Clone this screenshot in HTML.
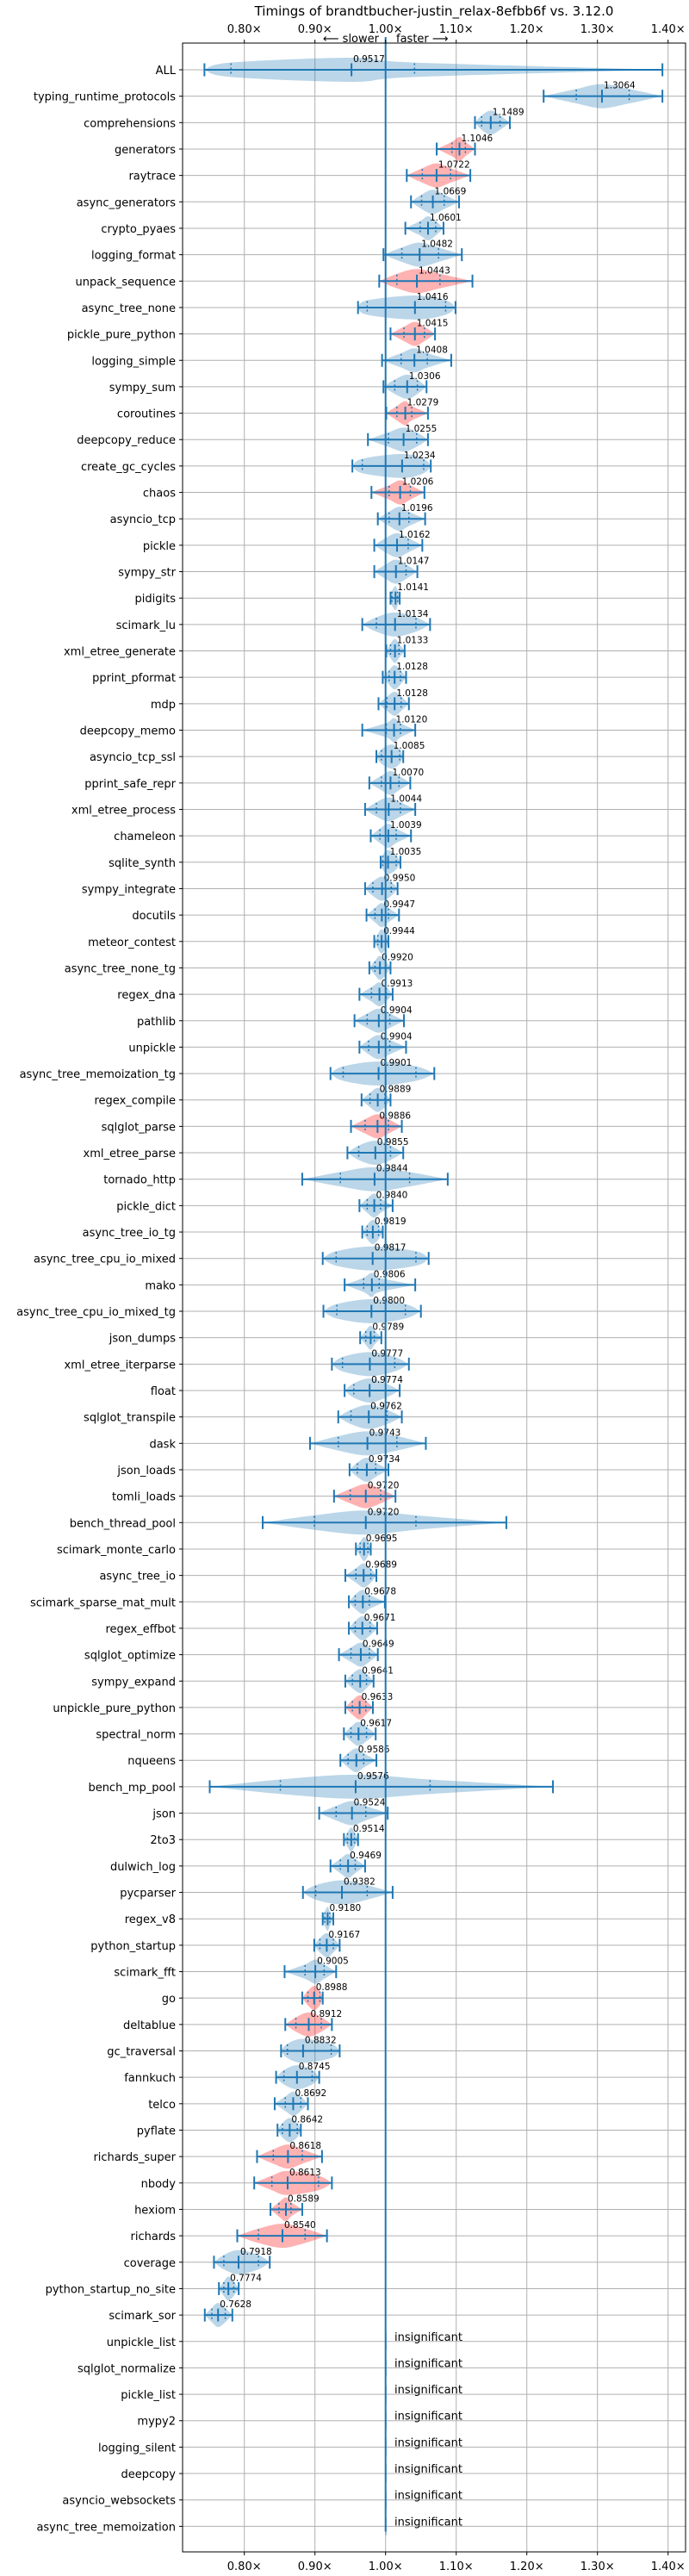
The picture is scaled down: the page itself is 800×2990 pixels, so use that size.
<!DOCTYPE html>
<html><head><meta charset="utf-8"><style>
html,body{margin:0;padding:0;background:#fff;}
svg{display:block;font-family:"DejaVu Sans","Liberation Sans",sans-serif;}
</style></head><body>
<svg id="chart" width="800" height="2990" viewBox="0 0 800 2990" xmlns="http://www.w3.org/2000/svg">
<text x="504" y="18" font-size="15" text-anchor="middle">Timings of brandtbucher-justin_relax-8efbb6f vs. 3.12.0</text>
<text x="440" y="49" font-size="13" text-anchor="end">⟵ slower</text>
<text x="460" y="49" font-size="13">faster ⟶</text>
<g id="grid"></g><g id="marks"></g><g id="axes"></g>
</svg>
<script>
const names=["ALL","typing_runtime_protocols","comprehensions","generators","raytrace","async_generators","crypto_pyaes","logging_format","unpack_sequence","async_tree_none","pickle_pure_python","logging_simple","sympy_sum","coroutines","deepcopy_reduce","create_gc_cycles","chaos","asyncio_tcp","pickle","sympy_str","pidigits","scimark_lu","xml_etree_generate","pprint_pformat","mdp","deepcopy_memo","asyncio_tcp_ssl","pprint_safe_repr","xml_etree_process","chameleon","sqlite_synth","sympy_integrate","docutils","meteor_contest","async_tree_none_tg","regex_dna","pathlib","unpickle","async_tree_memoization_tg","regex_compile","sqlglot_parse","xml_etree_parse","tornado_http","pickle_dict","async_tree_io_tg","async_tree_cpu_io_mixed","mako","async_tree_cpu_io_mixed_tg","json_dumps","xml_etree_iterparse","float","sqlglot_transpile","dask","json_loads","tomli_loads","bench_thread_pool","scimark_monte_carlo","async_tree_io","scimark_sparse_mat_mult","regex_effbot","sqlglot_optimize","sympy_expand","unpickle_pure_python","spectral_norm","nqueens","bench_mp_pool","json","2to3","dulwich_log","pycparser","regex_v8","python_startup","scimark_fft","go","deltablue","gc_traversal","fannkuch","telco","pyflate","richards_super","nbody","hexiom","richards","coverage","python_startup_no_site","scimark_sor"];
const insignificant=["unpickle_list","sqlglot_normalize","pickle_list","mypy2","logging_silent","deepcopy","asyncio_websockets","async_tree_memoization"];
const medians=[0.9517,1.3064,1.1489,1.1046,1.0722,1.0669,1.0601,1.0482,1.0443,1.0416,1.0415,1.0408,1.0306,1.0279,1.0255,1.0234,1.0206,1.0196,1.0162,1.0147,1.0141,1.0134,1.0133,1.0128,1.0128,1.0120,1.0085,1.0070,1.0044,1.0039,1.0035,0.9950,0.9947,0.9944,0.9920,0.9913,0.9904,0.9904,0.9901,0.9889,0.9886,0.9855,0.9844,0.9840,0.9819,0.9817,0.9806,0.9800,0.9789,0.9777,0.9774,0.9762,0.9743,0.9734,0.9720,0.9720,0.9695,0.9689,0.9678,0.9671,0.9649,0.9641,0.9633,0.9617,0.9586,0.9576,0.9524,0.9514,0.9469,0.9382,0.9180,0.9167,0.9005,0.8988,0.8912,0.8832,0.8745,0.8692,0.8642,0.8618,0.8613,0.8589,0.8540,0.7918,0.7774,0.7628];
const mins=[0.7435,1.2238,1.1266,1.0724,1.030,1.036,1.028,0.997,0.991,0.961,1.007,0.995,0.997,1.001,0.975,0.953,0.980,0.989,0.984,0.984,1.007,0.967,1.001,0.996,0.990,0.967,0.987,0.977,0.971,0.979,0.993,0.971,0.973,0.984,0.977,0.963,0.956,0.963,0.922,0.966,0.951,0.946,0.882,0.963,0.967,0.911,0.942,0.912,0.964,0.924,0.942,0.933,0.893,0.949,0.927,0.826,0.958,0.943,0.948,0.948,0.934,0.943,0.943,0.941,0.936,0.751,0.906,0.941,0.922,0.883,0.911,0.899,0.857,0.882,0.858,0.852,0.845,0.843,0.847,0.818,0.814,0.837,0.790,0.757,0.764,0.744];
const q1s=[0.781,1.270,1.136,1.094,1.052,1.051,1.049,1.023,1.016,0.974,1.026,1.022,1.013,1.016,1.004,0.967,1.005,1.005,1.000,1.000,1.009,0.987,1.007,1.005,1.002,1.001,0.994,0.994,0.987,0.992,0.996,0.982,0.985,0.989,0.985,0.980,0.974,0.976,0.940,0.978,0.971,0.962,0.936,0.974,0.974,0.930,0.969,0.931,0.972,0.939,0.955,0.951,0.933,0.960,0.950,0.899,0.964,0.958,0.957,0.957,0.951,0.953,0.953,0.951,0.947,0.851,0.930,0.946,0.936,0.901,0.914,0.907,0.886,0.890,0.873,0.861,0.856,0.858,0.854,0.841,0.839,0.849,0.820,0.771,0.771,0.754];
const q3s=[1.041,1.345,1.162,1.113,1.092,1.083,1.071,1.075,1.077,1.085,1.055,1.059,1.045,1.037,1.044,1.054,1.035,1.033,1.032,1.029,1.017,1.043,1.019,1.021,1.022,1.021,1.020,1.019,1.021,1.015,1.015,1.008,1.004,1.000,1.000,1.001,1.006,1.006,1.043,0.999,1.004,1.007,1.034,0.993,0.990,1.043,0.991,1.028,0.984,1.013,1.000,1.002,1.016,0.986,0.993,1.043,0.975,0.979,0.977,0.978,0.977,0.973,0.972,0.973,0.969,1.063,0.972,0.956,0.957,0.974,0.921,0.926,0.913,0.907,0.909,0.923,0.896,0.880,0.875,0.882,0.905,0.866,0.886,0.820,0.785,0.773];
const maxs=[1.392,1.392,1.176,1.1266,1.120,1.104,1.082,1.108,1.123,1.099,1.070,1.093,1.058,1.060,1.060,1.064,1.055,1.056,1.052,1.045,1.020,1.063,1.027,1.029,1.033,1.042,1.025,1.035,1.042,1.036,1.021,1.017,1.019,1.004,1.007,1.010,1.026,1.029,1.069,1.007,1.023,1.025,1.088,1.010,0.996,1.061,1.042,1.050,0.994,1.033,1.020,1.023,1.057,1.004,1.014,1.171,0.979,0.987,0.999,0.988,0.989,0.983,0.982,0.986,0.987,1.237,1.003,0.961,0.971,1.010,0.926,0.935,0.930,0.911,0.924,0.935,0.906,0.890,0.880,0.910,0.924,0.882,0.917,0.836,0.792,0.783];
const slowerSet=["generators","raytrace","unpack_sequence","pickle_pure_python","coroutines","chaos","sqlglot_parse","tomli_loads","unpickle_pure_python","go","deltablue","richards_super","nbody","hexiom","richards"];
const xTicks=[0.8,0.9,1.0,1.1,1.2,1.3,1.4];
const xTickLabels=["0.80×","0.90×","1.00×","1.10×","1.20×","1.30×","1.40×"];

const NS="http://www.w3.org/2000/svg";
const L=212,R=796,T=50,B=2962,ROW0=81,ROWH=30.66;
function xs(v){return 447.7+(v-1)*820;}
function ys(i){return ROW0+i*ROWH;}
function mk(tag,attrs,parent){const e=document.createElementNS(NS,tag);for(const k in attrs)e.setAttribute(k,attrs[k]);parent.appendChild(e);return e;}
const grid=document.getElementById('grid'),marks=document.getElementById('marks'),axes=document.getElementById('axes');
const allNames=names.concat(insignificant);

xTicks.forEach((t,i)=>{
  const g=mk('line',{x1:xs(t),x2:xs(t),y1:T,y2:B,stroke:'#b0b0b0','stroke-width':1},grid);
  
  
  [[T-4,T,38],[B,B+4,2983]].forEach(([a,b,ty],j)=>{
    const tk=mk('line',{x1:xs(t),x2:xs(t),y1:a,y2:b,stroke:'#000','stroke-width':1},axes);
    
    
    const tl=mk('text',{x:xs(t),y:ty,'font-size':13,'text-anchor':'middle'},axes);
    tl.textContent=xTickLabels[i];
    
    
  });
});
allNames.forEach((n,i)=>{
  const y=ys(i);
  const g=mk('line',{x1:L,x2:R,y1:y,y2:y,stroke:'#b0b0b0','stroke-width':1},grid);
  
  
  const tk=mk('line',{x1:L-4,x2:L,y1:y,y2:y,stroke:'#000','stroke-width':1},axes);
  
  
  const tl=mk('text',{x:L-8,y:y+5,'font-size':13,'text-anchor':'end'},axes);
  tl.textContent=n;
  
  
});
const frame=mk('rect',{x:L,y:T,width:R-L,height:B-T,fill:'none',stroke:'#000','stroke-width':1},axes);



function catmull(pts){
  let d='M'+pts[0][0]+','+pts[0][1];
  for(let i=0;i<pts.length-1;i++){
    const p0=pts[Math.max(0,i-1)],p1=pts[i],p2=pts[i+1],p3=pts[Math.min(pts.length-1,i+2)];
    const c1=[p1[0]+(p2[0]-p0[0])/6,p1[1]+(p2[1]-p0[1])/6],c2=[p2[0]-(p3[0]-p1[0])/6,p2[1]-(p3[1]-p1[1])/6];
    d+='C'+c1[0]+','+c1[1]+' '+c2[0]+','+c2[1]+' '+p2[0]+','+p2[1];
  }
  return d;
}
const HW=14,C='#1f77b4';
names.forEach((n,i)=>{
  const y=ys(i);
  const red=slowerSet.includes(n);
  const top=[[xs(mins[i]),y],[xs(q1s[i]),y-HW*0.6],[xs(medians[i]),y-HW],[xs(q3s[i]),y-HW*0.6],[xs(maxs[i]),y]];
  const bot=top.slice().reverse().map(p=>[p[0],2*y-p[1]]);
  const v=mk('path',{d:catmull(top)+catmull(bot).replace('M','L')+'Z',fill:red?'#ff0000':'#1f77b4','fill-opacity':0.3,stroke:'none'},marks);
  
  
  const h=mk('line',{x1:xs(mins[i]),x2:xs(maxs[i]),y1:y,y2:y,stroke:C,'stroke-width':2},marks);
  
  
  [mins[i],maxs[i],medians[i]].forEach(val=>{
    const c=mk('line',{x1:xs(val),x2:xs(val),y1:y-7.5,y2:y+7.5,stroke:C,'stroke-width':2},marks);
    
    
  });
  [q1s[i],q3s[i]].forEach(val=>{
    const c=mk('line',{x1:xs(val),x2:xs(val),y1:y-7.5,y2:y+7.5,stroke:C,'stroke-width':1.5,'stroke-dasharray':'2,3'},marks);
    
    
  });
  const t=mk('text',{x:xs(medians[i])+2,y:y-9,'font-size':10.5},marks);
  t.textContent=medians[i].toFixed(4);
  
  
});
insignificant.forEach((n,j)=>{
  const y=ys(names.length+j);
  const v=mk('line',{x1:xs(1.0005),x2:xs(1.0005),y1:y-10,y2:y+10,stroke:'#1f77b4','stroke-opacity':0.35,'stroke-width':2},marks);
  
  
  const t=mk('text',{x:458,y:y-1,'font-size':13},marks);
  t.textContent='insignificant';
  
  
});
const ref=mk('line',{x1:xs(1),x2:xs(1),y1:43,y2:ys(allNames.length-1)+6,stroke:C,'stroke-width':2},marks);


</script>
</body></html>
